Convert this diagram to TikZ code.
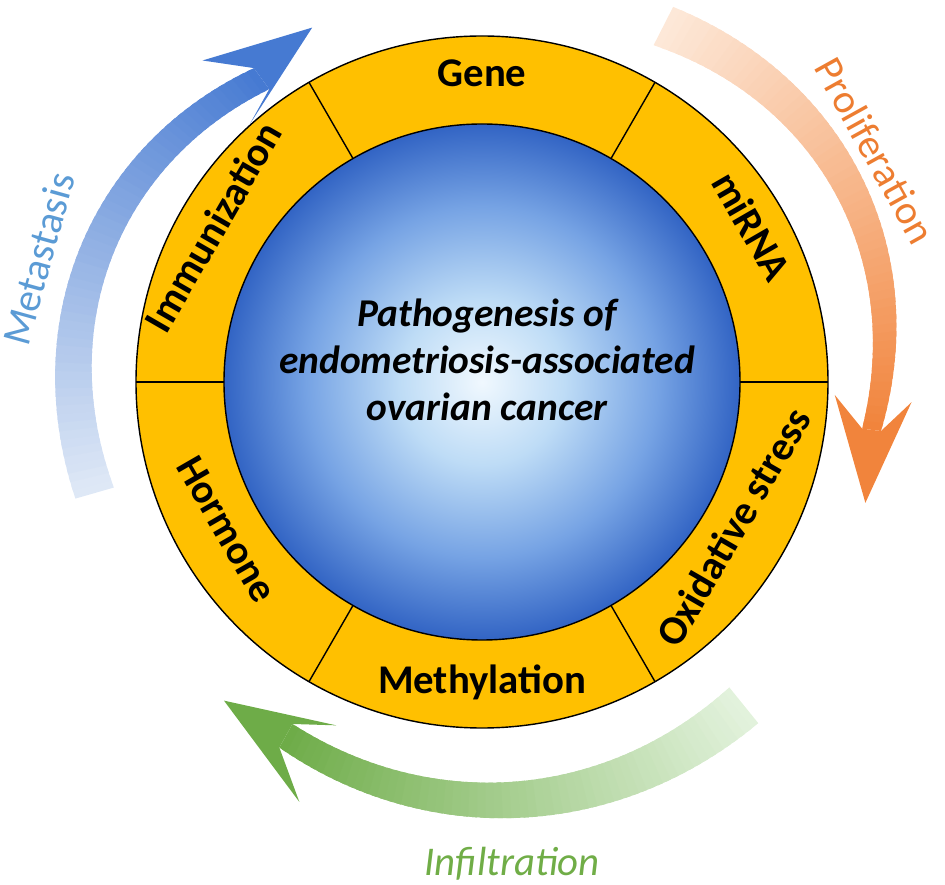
\documentclass[tikz,border=0pt]{standalone}
\usepackage{fontspec}
\setmainfont{Carlito}

\definecolor{ringyellow}{RGB}{255,192,0}
\definecolor{discedge}{RGB}{50,100,196}
\definecolor{discmid}{RGB}{118,163,228}
\definecolor{disclight}{RGB}{190,220,246}
\definecolor{disccore}{RGB}{240,248,254}
\definecolor{metapale}{RGB}{222,232,246}
\definecolor{metadark}{RGB}{70,122,210}
\definecolor{prolpale}{RGB}{253,232,216}
\definecolor{proldark}{RGB}{241,132,60}
\definecolor{infilpale}{RGB}{226,242,220}
\definecolor{infildark}{RGB}{110,172,72}
\definecolor{metatext}{RGB}{91,155,213}
\definecolor{proltext}{RGB}{237,125,49}
\definecolor{infiltext}{RGB}{112,173,71}

\pgfdeclareradialshading{discshade}{\pgfpoint{0bp}{0bp}}{color(0bp)=(disccore); color(8bp)=(disclight); color(17bp)=(discmid); color(25bp)=(discedge); color(50bp)=(discedge)}

\newcommand\ringfont{\fontsize{29}{34}\selectfont\bfseries}
\newcommand\flowfont{\fontsize{29}{34}\selectfont}

% curved band: tail angle, end angle, inner/outer radius at tail, inner/outer radius at end, pale, dark, bulge
\newcommand\flowband[9]{%
  \foreach \k in {0,...,59}{%
    \pgfmathsetmacro\bandkb{min(\k+1.6,60)}
    \pgfmathsetmacro\bandta{#1+(#2-#1)*\k/60}
    \pgfmathsetmacro\bandtb{#1+(#2-#1)*\bandkb/60}
    \pgfmathsetmacro\bandba{#9*sin(180*\k/60)}
    \pgfmathsetmacro\bandbb{#9*sin(180*\bandkb/60)}
    \pgfmathsetmacro\bandia{#3+(#5-#3)*\k/60+\bandba}
    \pgfmathsetmacro\bandoa{#4+(#6-#4)*\k/60+\bandba}
    \pgfmathsetmacro\bandib{#3+(#5-#3)*\bandkb/60+\bandbb}
    \pgfmathsetmacro\bandob{#4+(#6-#4)*\bandkb/60+\bandbb}
    \pgfmathtruncatemacro\bandmix{100*\k/59}
    \fill[#8!\bandmix!#7] (\bandta:\bandia) -- (\bandta:\bandoa) -- (\bandtb:\bandob) -- (\bandtb:\bandib) -- cycle;
  }}

\begin{document}
\begin{tikzpicture}[x=0.025cm,y=0.025cm,line width=1pt,
  ringlabel/.style={font=\ringfont,text height=0.66em,text depth=0.16em,inner sep=0pt},
  flowlabel/.style={font=\flowfont,text height=0.66em,text depth=0.16em,inner sep=0pt}]
  \useasboundingbox (-482,-503) rectangle (463,382);

  % arrows round the ring
  \flowband{196}{126}{383}{423}{362}{388}{metapale}{metadark}{18}
  \fill[metadark] (115.6:393) -- (131:426) -- (126:388) -- (126:362) -- (132:347) -- cycle;
  \flowband{63}{-7}{378}{421}{383}{402}{prolpale}{proldark}{20}
  \fill[proldark] (-17.5:402) -- (-2.7:430) -- (-7:402) -- (-7:383) -- (-2.1:353) -- cycle;
  \flowband{309}{241}{393}{439}{391}{418}{infilpale}{infildark}{9}
  \fill[infildark] (231:410) -- (246.5:458) -- (241:418) -- (241:391) -- (247:373) -- cycle;

  % ring and disc
  \fill[ringyellow,draw=black] (0,0) circle[radius=346];
  \shadedraw[shading=discshade,draw=black] (0,0) circle[radius=258];
  \foreach \a in {0,60,...,300}
    \draw (\a:258) -- (\a:346);

  \node[ringlabel] (gene) at (90:299) {Gene};
  \node[ringlabel,rotate=-60] (mirna) at (30:301) {miRNA};
  \node[ringlabel,rotate=60] (oxid) at (330:301) {Oxidative stress};
  \node[ringlabel] (methyl) at (270:308) {Methylation};
  \node[ringlabel,rotate=-60] (hormone) at (210:304) {Hormone};
  \node[ringlabel,rotate=60] (immun) at (150:300) {Immunization};

  \node[align=center,font=\fontsize{28}{33.5}\selectfont\bfseries\itshape] (core) at (5,22)
    {Pathogenesis of\\endometriosis-associated\\ovarian cancer};

  % labels of the arrows
  \node[flowlabel,rotate=-61,text=proltext] (prolif) at (30.5:446) {Proliferation};
  \node[flowlabel,rotate=74.5,text=metatext] (meta) at (164.5:450) {Metastasis};
  \node[anchor=base,font=\flowfont\itshape,text=infiltext] (infil) at (30,-493) {Infiltration};
\end{tikzpicture}
\end{document}
